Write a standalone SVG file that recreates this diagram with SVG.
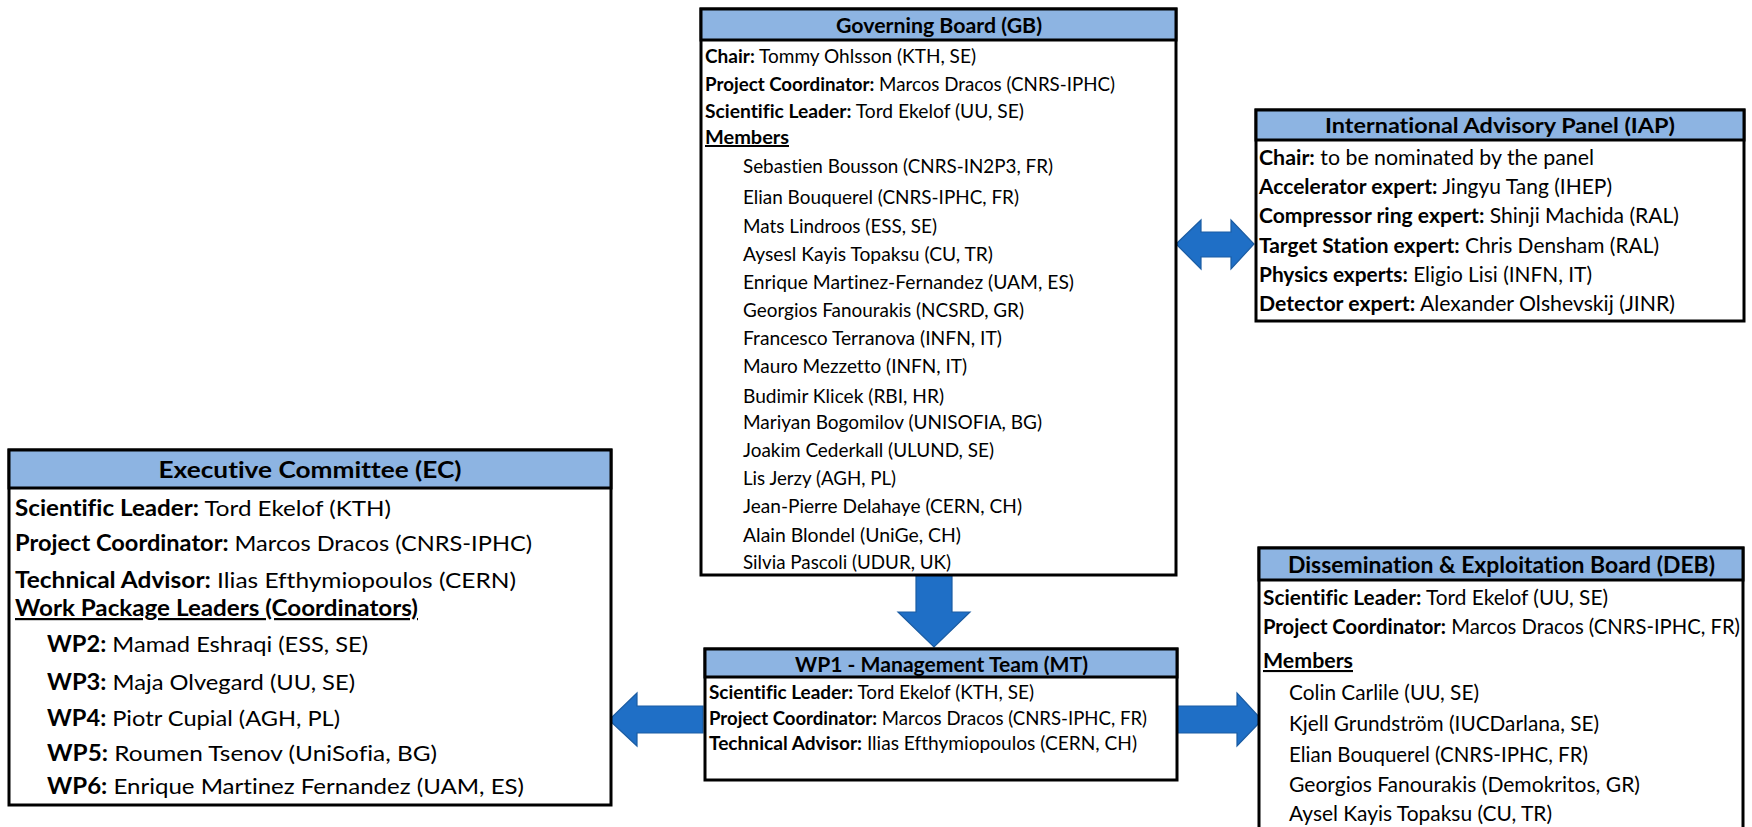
<svg xmlns="http://www.w3.org/2000/svg" width="1752" height="827" viewBox="0 0 1752 827">
<defs>
<style>
.box{fill:#ffffff;stroke:#000000;stroke-width:3}
.hdr{fill:#8DB4E2;stroke:#000000;stroke-width:3}
text{font-family:Lato,"Liberation Sans",sans-serif;fill:#000000;font-variant-ligatures:none;font-feature-settings:"liga" 0}
.h{font-weight:bold;text-anchor:middle}
.b{font-weight:bold}
.u{text-decoration:underline}
.arrow{fill:#1F6FC6;stroke:#1A5CA3;stroke-width:1.2;stroke-linejoin:miter}
</style>
</defs>
<rect width="1752" height="827" fill="#ffffff"/>

<g id="connectors">
<path class="arrow" d="M916,575 H952 V612 H970 L934,647 L898,612 H916 Z"/>
<path class="arrow" d="M703,706 V733 H637 V746 L609,720 L637,693 V706 Z"/>
<path class="arrow" d="M1175,706 H1237 V693 L1262,720 L1237,746 V733 H1175 Z"/>
<path class="arrow" d="M1176,244 L1201,220 V232 H1231 V220 L1254,244 L1231,269 V257 H1201 V269 Z"/>
</g>

<g id="gb">
<rect class="box" x="701" y="9" width="475" height="566"/>
<rect class="hdr" x="701" y="9" width="475" height="31"/>
<text class="h" x="939" y="33" font-size="20.5" textLength="206" lengthAdjust="spacingAndGlyphs">Governing Board (GB)</text>
<g font-size="19.8">
<text x="705" y="63" textLength="271" lengthAdjust="spacingAndGlyphs"><tspan class="b">Chair:</tspan> Tommy Ohlsson (KTH, SE)</text>
<text x="705" y="91" textLength="410" lengthAdjust="spacingAndGlyphs"><tspan class="b">Project Coordinator:</tspan> Marcos Dracos (CNRS-IPHC)</text>
<text x="705" y="118" textLength="319" lengthAdjust="spacingAndGlyphs"><tspan class="b">Scientific Leader:</tspan> Tord Ekelof (UU, SE)</text>
<text class="b u" x="705" y="144" textLength="84" lengthAdjust="spacingAndGlyphs">Members</text>
<text x="743" y="173" textLength="310" lengthAdjust="spacingAndGlyphs">Sebastien Bousson (CNRS-IN2P3, FR)</text>
<text x="743" y="204" textLength="276" lengthAdjust="spacingAndGlyphs">Elian Bouquerel (CNRS-IPHC, FR)</text>
<text x="743" y="233" textLength="194" lengthAdjust="spacingAndGlyphs">Mats Lindroos (ESS, SE)</text>
<text x="743" y="261" textLength="250" lengthAdjust="spacingAndGlyphs">Aysesl Kayis Topaksu (CU, TR)</text>
<text x="743" y="289" textLength="331" lengthAdjust="spacingAndGlyphs">Enrique Martinez-Fernandez (UAM, ES)</text>
<text x="743" y="317" textLength="281" lengthAdjust="spacingAndGlyphs">Georgios Fanourakis (NCSRD, GR)</text>
<text x="743" y="345" textLength="259" lengthAdjust="spacingAndGlyphs">Francesco Terranova (INFN, IT)</text>
<text x="743" y="373" textLength="224" lengthAdjust="spacingAndGlyphs">Mauro Mezzetto (INFN, IT)</text>
<text x="743" y="403" textLength="201" lengthAdjust="spacingAndGlyphs">Budimir Klicek (RBI, HR)</text>
<text x="743" y="429" textLength="299" lengthAdjust="spacingAndGlyphs">Mariyan Bogomilov (UNISOFIA, BG)</text>
<text x="743" y="457" textLength="251" lengthAdjust="spacingAndGlyphs">Joakim Cederkall (ULUND, SE)</text>
<text x="743" y="485" textLength="153" lengthAdjust="spacingAndGlyphs">Lis Jerzy (AGH, PL)</text>
<text x="743" y="513" textLength="279" lengthAdjust="spacingAndGlyphs">Jean-Pierre Delahaye (CERN, CH)</text>
<text x="743" y="542" textLength="218" lengthAdjust="spacingAndGlyphs">Alain Blondel (UniGe, CH)</text>
<text x="743" y="569" textLength="208" lengthAdjust="spacingAndGlyphs">Silvia Pascoli (UDUR, UK)</text>
</g>
</g>

<g id="iap">
<rect class="box" x="1256" y="110" width="488" height="211"/>
<rect class="hdr" x="1256" y="110" width="488" height="30"/>
<text class="h" x="1500" y="133" font-size="21" textLength="350" lengthAdjust="spacingAndGlyphs">International Advisory Panel (IAP)</text>
<g font-size="21.5">
<text x="1259" y="165" textLength="335" lengthAdjust="spacingAndGlyphs"><tspan class="b">Chair:</tspan> to be nominated by the panel</text>
<text x="1259" y="194" textLength="353" lengthAdjust="spacingAndGlyphs"><tspan class="b">Accelerator expert:</tspan> Jingyu Tang (IHEP)</text>
<text x="1259" y="223" textLength="420" lengthAdjust="spacingAndGlyphs"><tspan class="b">Compressor ring expert:</tspan> Shinji Machida (RAL)</text>
<text x="1259" y="253" textLength="400" lengthAdjust="spacingAndGlyphs"><tspan class="b">Target Station expert:</tspan> Chris Densham (RAL)</text>
<text x="1259" y="282" textLength="333" lengthAdjust="spacingAndGlyphs"><tspan class="b">Physics experts:</tspan> Eligio Lisi (INFN, IT)</text>
<text x="1259" y="311" textLength="416" lengthAdjust="spacingAndGlyphs"><tspan class="b">Detector expert:</tspan> Alexander Olshevskij (JINR)</text>
</g>
</g>

<g id="ec">
<rect class="box" x="9" y="450" width="602" height="355"/>
<rect class="hdr" x="9" y="450" width="602" height="38"/>
<text class="h" x="310" y="478" font-size="23" textLength="303" lengthAdjust="spacingAndGlyphs">Executive Committee (EC)</text>
<g font-size="22">
<text x="15" y="516" textLength="376" lengthAdjust="spacingAndGlyphs"><tspan class="b">Scientific Leader:</tspan> Tord Ekelof (KTH)</text>
<text x="15" y="551" textLength="517" lengthAdjust="spacingAndGlyphs"><tspan class="b">Project Coordinator:</tspan> Marcos Dracos (CNRS-IPHC)</text>
<text x="15" y="588" textLength="501" lengthAdjust="spacingAndGlyphs"><tspan class="b">Technical Advisor:</tspan> Ilias Efthymiopoulos (CERN)</text>
<text class="b u" x="15" y="616" textLength="403" lengthAdjust="spacingAndGlyphs">Work Package Leaders (Coordinators)</text>
<text x="47" y="652" textLength="321" lengthAdjust="spacingAndGlyphs"><tspan class="b">WP2:</tspan> Mamad Eshraqi (ESS, SE)</text>
<text x="47" y="690" textLength="308" lengthAdjust="spacingAndGlyphs"><tspan class="b">WP3:</tspan> Maja Olvegard (UU, SE)</text>
<text x="47" y="726" textLength="293" lengthAdjust="spacingAndGlyphs"><tspan class="b">WP4:</tspan> Piotr Cupial (AGH, PL)</text>
<text x="47" y="761" textLength="390" lengthAdjust="spacingAndGlyphs"><tspan class="b">WP5:</tspan> Roumen Tsenov (UniSofia, BG)</text>
<text x="47" y="794" textLength="477" lengthAdjust="spacingAndGlyphs"><tspan class="b">WP6:</tspan> Enrique Martinez Fernandez (UAM, ES)</text>
</g>
</g>

<g id="mt">
<rect class="box" x="705" y="649" width="472" height="131"/>
<rect class="hdr" x="705" y="649" width="472" height="28"/>
<text class="h" x="941.5" y="672" font-size="20.5" textLength="293" lengthAdjust="spacingAndGlyphs">WP1 - Management Team (MT)</text>
<g font-size="19.8">
<text x="709" y="699" textLength="325" lengthAdjust="spacingAndGlyphs"><tspan class="b">Scientific Leader:</tspan> Tord Ekelof (KTH, SE)</text>
<text x="709" y="725" textLength="438" lengthAdjust="spacingAndGlyphs"><tspan class="b">Project Coordinator:</tspan> Marcos Dracos (CNRS-IPHC, FR)</text>
<text x="709" y="750" textLength="428" lengthAdjust="spacingAndGlyphs"><tspan class="b">Technical Advisor:</tspan> Ilias Efthymiopoulos (CERN, CH)</text>
</g>
</g>

<g id="deb">
<rect class="box" x="1259" y="548" width="484" height="290"/>
<rect class="hdr" x="1259" y="548" width="484" height="32"/>
<text class="h" x="1501.5" y="573" font-size="23" textLength="427" lengthAdjust="spacingAndGlyphs">Dissemination &amp; Exploitation Board (DEB)</text>
<g font-size="21">
<text x="1263" y="605" textLength="345" lengthAdjust="spacingAndGlyphs"><tspan class="b">Scientific Leader:</tspan> Tord Ekelof (UU, SE)</text>
<text x="1263" y="634" textLength="477" lengthAdjust="spacingAndGlyphs"><tspan class="b">Project Coordinator:</tspan> Marcos Dracos (CNRS-IPHC, FR)</text>
<text class="b u" x="1263" y="668" textLength="90" lengthAdjust="spacingAndGlyphs">Members</text>
<text x="1289" y="700" textLength="190" lengthAdjust="spacingAndGlyphs">Colin Carlile (UU, SE)</text>
<text x="1289" y="731" textLength="310" lengthAdjust="spacingAndGlyphs">Kjell Grundström (IUCDarlana, SE)</text>
<text x="1289" y="762" textLength="299" lengthAdjust="spacingAndGlyphs">Elian Bouquerel (CNRS-IPHC, FR)</text>
<text x="1289" y="792" textLength="351" lengthAdjust="spacingAndGlyphs">Georgios Fanourakis (Demokritos, GR)</text>
<text x="1289" y="821" textLength="263" lengthAdjust="spacingAndGlyphs">Aysel Kayis Topaksu (CU, TR)</text>
</g>
</g>
</svg>
